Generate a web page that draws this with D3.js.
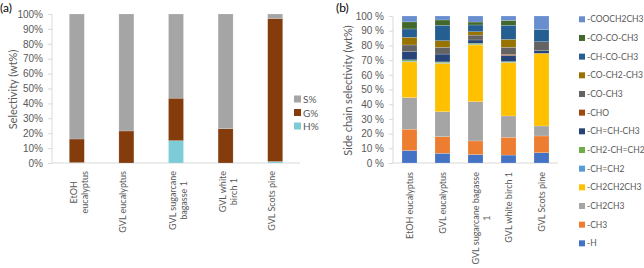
<!DOCTYPE html>
<html>
<head>
<meta charset="utf-8">
<script src="https://cdn.jsdelivr.net/npm/d3@7"></script>
<style>
  body { margin: 0; background: #fff; }
  svg { font-family: Lato, "Liberation Sans", sans-serif; }
  .tick text { fill: #595959; font-size: 10px; }
  .axis path, .axis line { stroke: #d9d9d9; }
  .lbl { fill: #595959; font-size: 10px; }
</style>
</head>
<body>
<svg id="chart" width="644" height="268"></svg>
<script>
// ---- panel (a): S/G/H selectivity
const catsA = [["EtOH", "eucalyptus"], ["GVL eucalyptus"], ["GVL sugarcane", "bagasse 1"], ["GVL white", "birch 1"], ["GVL Scots pine"]];
const seriesA = ["H%", "G%", "S%"];
const hVals = [0.3, 0, 15, 0, 1];
const gVals = [15.8, 21.5, 28.5, 23, 96];
const sVals = [83.9, 78.5, 56.5, 77, 3];
const colorsA = ["#7ccbd6", "#843c0c", "#a5a5a5"];

// ---- panel (b): side chain selectivity
const catsB = [["EtOH eucalyptus"], ["GVL eucalyptus"], ["GVL sugarcane bagasse", "1"], ["GVL white birch 1"], ["GVL Scots pine"]];
const seriesB = ["-H", "-CH3", "-CH2CH3", "-CH2CH2CH3", "-CH=CH2", "-CH2-CH=CH2", "-CH=CH-CH3", "-CHO", "-CO-CH3", "-CO-CH2-CH3", "-CH-CO-CH3", "-CO-CO-CH3", "-COOCH2CH3"];
const valsB = [
  [8.5, 6.6, 5.7, 5.4, 7.0],       // -H
  [14.5, 11.3, 9.3, 12.1, 11.4],   // -CH3
  [21.5, 17.0, 26.7, 14.5, 6.8],   // -CH2CH3
  [24.3, 32.9, 38.6, 36.3, 49.4],  // -CH2CH2CH3
  [0.5, 0.4, 0.3, 0.2, 0],         // -CH=CH2
  [0.9, 0.6, 0.9, 0.5, 0],         // -CH2-CH=CH2
  [5.5, 5.3, 2.2, 4.2, 1.8],       // -CH=CH-CH3
  [0, 0, 0, 0.8, 0],               // -CHO
  [4.6, 4.6, 3.3, 4.7, 6.1],       // -CO-CH3
  [5.2, 4.5, 2.3, 5.4, 0],         // -CO-CH2-CH3
  [5.7, 10.5, 4.6, 9.6, 8.4],      // -CH-CO-CH3
  [4.8, 3.6, 2.0, 3.3, 0],         // -CO-CO-CH3
  [4.0, 2.7, 4.1, 3.0, 9.1]        // -COOCH2CH3
];
const colorsB = ["#4472c4", "#ed7d31", "#a5a5a5", "#ffc000", "#5b9bd5", "#70ad47", "#264478", "#9e480e", "#636363", "#997300", "#255e91", "#43682b", "#698ed0"];
const ticksA = d3.range(0, 101, 10);

const svg = d3.select("#chart");

function drawPanel(opts){
  const g = svg.append("g");
  const x = d3.scalePoint().domain(d3.range(opts.cats.length)).range([opts.x0, opts.x1]).padding(0.5);
  const y = d3.scaleLinear().domain([0, 100]).range([opts.y0, opts.y1]);

  // y axis
  g.append("g").attr("class", "axis").attr("transform", `translate(${opts.x0},0)`)
    .call(d3.axisLeft(y).tickValues(ticksA).tickSize(4).tickPadding(5).tickFormat(opts.fmt))
    .call(a => a.select(".domain").attr("d", `M-4,${opts.y1 + 0.5}H0V${opts.y0}`));
  // baseline
  g.append("line").attr("x1", opts.x0).attr("x2", opts.x1).attr("y1", opts.y0).attr("y2", opts.y0)
    .attr("stroke", "#d9d9d9");

  // stacks
  const rows = opts.cats.map((c, i) => {
    const r = {i: i};
    opts.series.forEach((s, k) => { r[s] = opts.vals[k][i]; });
    return r;
  });
  const stack = d3.stack().keys(opts.series)(rows);
  stack.forEach((layer, k) => {
    g.append("g").attr("fill", opts.colors[k]).selectAll("rect").data(layer).enter().append("rect")
      .attr("x", d => x(d.data.i) - 7.5).attr("width", 15)
      .attr("y", d => y(d[1])).attr("height", d => Math.max(0, y(d[0]) - y(d[1])))
      .attr("stroke", "#fff").attr("stroke-opacity", 0.35).attr("stroke-width", 0.5);
  });

  // category labels, rotated
  opts.cats.forEach((lines, i) => {
    const lg = g.append("g");
    const texts = lines.map((t, j) => lg.append("text").attr("class", "lbl").style("font-size", opts.catSize).text(t)
      .attr("text-anchor", "middle").attr("dominant-baseline", "central"));
    const maxW = d3.max(texts, t => t.node().getComputedTextLength());
    const cy = opts.labTop + maxW / 2;
    texts.forEach((t, j) => {
      const cx = x(i) + opts.labDx + j * 11;
      t.attr("transform", `translate(${cx},${cy}) rotate(-90)`);
    });
  });

  // y title
  svg.append("text").attr("class", "lbl").style("font-size", "11px")
    .attr("text-anchor", "middle").attr("dominant-baseline", "central")
    .attr("transform", `translate(${opts.titleX},${(opts.y0 + opts.y1) / 2 + 1}) rotate(-90)`)
    .text(opts.title);

  // panel tag
  svg.append("text").attr("x", opts.tagX).attr("y", 12).style("font-size", "12px").attr("fill", "#000")
    .text(opts.tag);

  // legend
  const leg = svg.append("g");
  opts.legOrder.forEach((k, j) => {
    const ly = opts.legY + j * opts.legStep;
    leg.append("rect").attr("x", opts.legX).attr("y", ly - opts.sw / 2).attr("width", opts.sw).attr("height", opts.sw)
      .attr("fill", opts.colors[k]);
    leg.append("text").attr("class", "lbl").style("font-size", opts.legSize).attr("x", opts.legX + opts.sw + 2).attr("y", ly)
      .attr("dominant-baseline", "central").text(opts.series[k]);
  });
}

drawPanel({
  cats: catsA, series: seriesA, vals: [hVals, gVals, sVals], colors: colorsA,
  x0: 52, x1: 300, y0: 163, y1: 14, fmt: d => d + "%", catSize: "9px",
  labTop: 171, labDx: -3.5, title: "Selectivity (wt%)", titleX: 12, tag: "(a)", tagX: 0,
  legOrder: [2, 1, 0], legX: 294, legY: 99, legStep: 13.5, sw: 7, legSize: "10px"
});

drawPanel({
  cats: catsB, series: seriesB, vals: valsB, colors: colorsB,
  x0: 393, x1: 558, y0: 163, y1: 16, fmt: d => d + " %", catSize: "9px",
  labTop: 172, labDx: -0.5, title: "Side chain selectivity (wt%)", titleX: 347, tag: "(b)", tagX: 336,
  legOrder: d3.range(seriesB.length).reverse(), legX: 579, legY: 19.3, legStep: 18.67, sw: 6, legSize: "8.5px"
});
</script>
</body>
</html>
